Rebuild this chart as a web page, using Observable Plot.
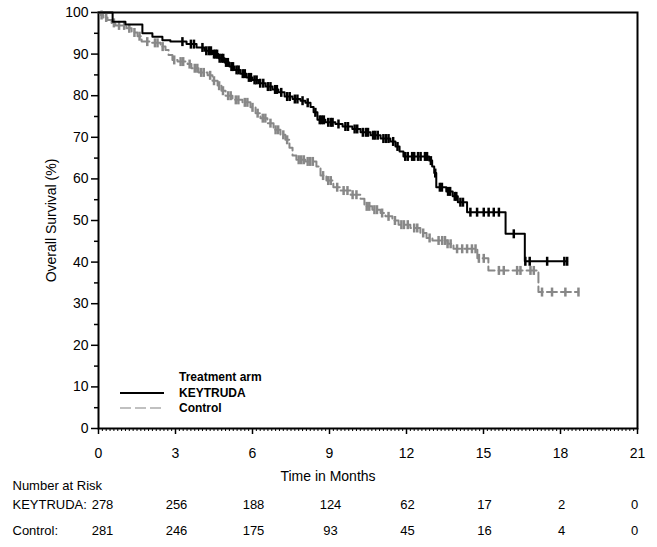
<!DOCTYPE html>
<html><head><meta charset="utf-8">
<script src="https://cdn.jsdelivr.net/npm/d3@7"></script>
<script src="https://cdn.jsdelivr.net/npm/@observablehq/plot@0.6"></script>
<style>
body{margin:0;background:#fff;}
#wrap{position:relative;width:657px;height:547px;font-family:"Liberation Sans",Arial,sans-serif;}
#legend{position:absolute;left:115px;top:365px;}
</style></head><body>
<div id="wrap"><div id="chart"></div>
<svg id="legend" width="170" height="55" font-family="Liberation Sans, Arial, sans-serif" font-size="12" font-weight="bold">
<text x="64" y="16">Treatment arm</text>
<line x1="5" x2="49" y1="28" y2="28" stroke="#000" stroke-width="2"/>
<text x="64" y="32">KEYTRUDA</text>
<line x1="5" x2="49" y1="43" y2="43" stroke="#c0c0c0" stroke-width="2" stroke-dasharray="11,4"/>
<text x="64" y="47">Control</text>
</svg>
</div>
<script>
// Kaplan-Meier step vertices (time in months, survival %)
const keytrudaTimes = [0, 0.55, 1.05, 1.71, 2.10, 2.49, 2.80, 3.43, 3.82, 4.13, 4.44, 4.67, 4.91, 5.10, 5.30, 5.53, 5.77, 6.00, 6.23, 6.51, 6.78, 7.01, 7.25, 7.56, 7.87, 8.06, 8.26, 8.38, 8.53, 8.84, 9.23, 9.51, 9.89, 10.21, 10.60, 10.99, 11.37, 11.57, 11.73, 11.88, 12.88, 13.00, 13.08, 13.16, 13.55, 13.80, 14.00, 14.36, 15.86, 16.61, 18.26];
const keytrudaSurv  = [100, 97.8, 97.1, 95.0, 94.2, 93.3, 93.0, 92.4, 91.6, 90.8, 90.0, 89.0, 88.0, 87.0, 86.2, 85.3, 84.4, 83.8, 83.0, 82.2, 81.5, 80.8, 79.8, 79.2, 78.8, 78.3, 77.3, 76.0, 74.2, 73.6, 73.2, 72.6, 72.0, 71.2, 70.5, 69.7, 69.0, 67.8, 66.6, 65.4, 64.4, 63.0, 61.4, 58.0, 57.0, 55.8, 54.4, 52.0, 46.8, 40.2, 40.2];
const controlTimes = [0, 0.08, 0.19, 0.35, 0.51, 0.66, 1.09, 1.29, 1.52, 1.68, 2.03, 2.42, 2.61, 2.73, 2.88, 3.08, 3.47, 3.62, 3.90, 4.25, 4.44, 4.64, 4.79, 4.95, 5.22, 5.61, 5.92, 6.12, 6.31, 6.58, 6.82, 7.09, 7.28, 7.44, 7.56, 7.71, 8.06, 8.49, 8.65, 8.88, 9.15, 9.43, 9.82, 10.21, 10.36, 10.67, 10.99, 11.18, 11.45, 11.69, 12.15, 12.54, 12.78, 13.01, 13.60, 13.83, 14.76, 15.19, 17.14, 18.70];
const controlSurv  = [100, 99.4, 98.8, 98.2, 97.5, 96.9, 96.2, 95.2, 94.3, 93.0, 92.7, 91.8, 91.0, 89.8, 88.6, 88.2, 87.6, 86.6, 85.6, 84.9, 83.6, 82.4, 81.2, 80.0, 79.0, 78.4, 77.2, 75.8, 74.6, 73.4, 71.8, 70.6, 69.4, 67.5, 65.6, 64.6, 64.2, 63.0, 60.8, 59.6, 58.0, 57.2, 56.2, 55.2, 53.4, 52.6, 51.8, 51.0, 50.0, 49.0, 48.2, 47.0, 45.8, 45.2, 44.4, 43.2, 40.9, 38.0, 32.8, 32.8];
// Censoring times (months)
const keytrudaCensor = [3.27, 3.6, 3.72, 4.05, 4.2, 4.3, 4.38, 4.5, 4.56, 4.62, 4.72, 4.8, 4.86, 4.97, 5.04, 5.18, 5.24, 5.38, 5.46, 5.62, 5.7, 5.86, 5.94, 6.08, 6.16, 6.3, 6.42, 6.6, 6.7, 6.88, 6.95, 7.12, 7.35, 7.45, 7.65, 7.75, 7.95, 8.15, 8.45, 8.62, 8.7, 8.78, 8.95, 9.05, 9.12, 9.35, 9.62, 9.72, 9.98, 10.08, 10.3, 10.42, 10.5, 10.7, 10.78, 10.88, 11.1, 11.2, 11.3, 11.48, 11.65, 11.95, 12.05, 12.22, 12.3, 12.45, 12.55, 12.72, 12.8, 12.95, 13.12, 13.3, 13.38, 13.62, 13.7, 13.88, 13.94, 14.1, 14.2, 14.49, 14.75, 15.01, 15.2, 15.4, 15.6, 16.18, 16.63, 16.8, 17.48, 18.15, 18.26];
const controlCensor = [0.12, 0.3, 0.6, 0.8, 1.0, 1.2, 1.4, 1.6, 1.9, 2.2, 2.3, 2.5, 2.95, 3.2, 3.3, 3.55, 3.75, 3.85, 4.0, 4.1, 4.35, 4.5, 4.7, 4.85, 5.05, 5.15, 5.35, 5.45, 5.7, 5.8, 6.0, 6.2, 6.4, 6.5, 6.7, 6.9, 7.0, 7.2, 7.35, 7.8, 7.9, 8.0, 8.15, 8.25, 8.35, 8.75, 8.95, 9.05, 9.3, 9.55, 9.7, 9.9, 10.05, 10.45, 10.55, 10.75, 10.85, 11.05, 11.3, 11.55, 11.8, 11.9, 12.05, 12.3, 12.42, 12.65, 12.9, 13.25, 13.39, 13.5, 13.6, 13.72, 13.97, 14.17, 14.36, 14.55, 14.69, 14.82, 15.01, 15.6, 15.79, 16.31, 16.44, 16.83, 16.96, 17.28, 17.67, 18.19, 18.7];
// Axes and risk table
const xTicks = [0, 3, 6, 9, 12, 15, 18, 21];
const yTicks = [0, 10, 20, 30, 40, 50, 60, 70, 80, 90, 100];
const riskTimes = [0, 3, 6, 9, 12, 15, 18, 21];
const keytrudaRisk = [278, 256, 188, 124, 62, 17, 2, 0];
const controlRisk = [281, 246, 175, 93, 45, 16, 4, 0];

const BLACK = "#000", GRAY = "#888888";
const curve = (T, S) => T.map((t, i) => ({t, s: S[i]}));
const survAt = (T, S, c) => { let s = S[0]; for (let i = 0; i < T.length; i++) if (T[i] <= c) s = S[i]; return s; };
const censors = (C, T, S) => C.map(c => ({t: c, s: survAt(T, S, c)}));
const vbar = {draw(ctx, size) { const h = Math.sqrt(size / Math.PI); ctx.moveTo(0, -h); ctx.lineTo(0, h); }};

const kCurve = curve(keytrudaTimes, keytrudaSurv);
const cCurve = curve(controlTimes, controlSurv);
const kCens = censors(keytrudaCensor, keytrudaTimes, keytrudaSurv);
const cCens = censors(controlCensor, controlTimes, controlSurv);

const riskRows = riskTimes.map((t, i) => ({t, k: keytrudaRisk[i], c: controlRisk[i], i}));
const last = riskTimes.length - 1;
const riskText = (key, dy) => [
  Plot.text(riskRows.filter(d => d.i === 0), {x: "t", text: key, frameAnchor: "bottom", dy, dx: 4, fontSize: 13}),
  Plot.text(riskRows.filter(d => d.i > 0 && d.i < last), {x: "t", text: key, frameAnchor: "bottom", dy, dx: 1, fontSize: 13}),
  Plot.text(riskRows.filter(d => d.i === last), {x: "t", text: key, frameAnchor: "bottom", dy, dx: -3, fontSize: 13})
];

const chart = Plot.plot({
  width: 657, height: 547,
  marginLeft: 98, marginRight: 20, marginTop: 12, marginBottom: 119,
  style: {fontFamily: "Liberation Sans, Arial, sans-serif", fontSize: "14px", color: "#000", background: "#fff"},
  x: {domain: [0, 21], label: null},
  y: {domain: [0, 100], label: null},
  marks: [
    Plot.axisY(d3.range(5, 100, 10), {tickSize: 4, text: null, label: null, strokeWidth: 1.5}),
    Plot.axisY(yTicks, {tickSize: 7, tickPadding: 3, strokeWidth: 1.5, fontSize: 14,
      label: "Overall Survival (%)", labelAnchor: "center", labelArrow: "none", labelOffset: 52}),
    Plot.axisX(d3.range(0, 21.001, 0.15), {tickSize: 3, text: null, label: null}),
    Plot.axisX(xTicks, {tickSize: 6, tickPadding: 14, strokeWidth: 1.5, fontSize: 14, label: null}),
    Plot.frame({stroke: "#000", strokeWidth: 2}),
    Plot.line(cCurve, {x: "t", y: "s", curve: "step-after", stroke: GRAY, strokeWidth: 2, strokeDasharray: "10,4"}),
    Plot.dot(cCens, {x: "t", y: "s", symbol: vbar, r: 4.5, stroke: GRAY, strokeWidth: 2.5, fill: "none"}),
    Plot.line(kCurve, {x: "t", y: "s", curve: "step-after", stroke: BLACK, strokeWidth: 2}),
    Plot.dot(kCens, {x: "t", y: "s", symbol: vbar, r: 4.5, stroke: BLACK, strokeWidth: 2.5, fill: "none"}),
    Plot.text(["Time in Months"], {text: d => d, frameAnchor: "bottom", dx: -40, dy: 52, fontSize: 14}),
    Plot.text(["Number at Risk"], {text: d => d, frameAnchor: "bottom-left", textAnchor: "start", dx: -86, dy: 61, fontSize: 13}),
    Plot.text(["KEYTRUDA:"], {text: d => d, frameAnchor: "bottom-left", textAnchor: "start", dx: -86, dy: 80, fontSize: 13}),
    Plot.text(["Control:"], {text: d => d, frameAnchor: "bottom-left", textAnchor: "start", dx: -86, dy: 106, fontSize: 13}),
    ...riskText("k", 80),
    ...riskText("c", 106)
  ]
});
document.getElementById("chart").appendChild(chart);
</script>
</body></html>
